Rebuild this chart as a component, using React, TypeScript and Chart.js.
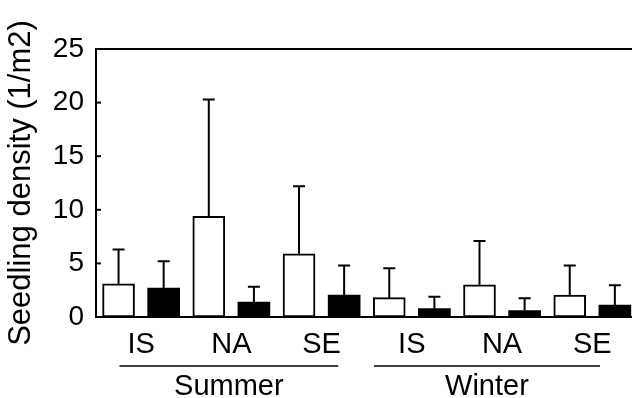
import React, { useEffect, useRef } from "react";
import { Chart, registerables } from "chart.js";
Chart.register(...registerables);

const seasons = ["Summer", "Winter"];
const sites = ["IS", "NA", "SE"];
// open bars
const openMeans = [3.1, 9.4, 5.9, 1.8, 3.0, 2.05];
const openSD = [3.2, 10.9, 6.3, 2.75, 4.1, 2.75];
// filled bars
const filledMeans = [2.7, 1.4, 2.05, 0.78, 0.6, 1.12];
const filledSD = [2.5, 1.43, 2.75, 1.12, 1.15, 1.84];
const yTicks = [0, 5, 10, 15, 20, 25];

const FONT = "'Liberation Sans', Arial, Helvetica, sans-serif";

const errorBars = {
  id: "errorBars",
  afterDatasetsDraw(chart: any) {
    const { ctx } = chart;
    const y = chart.scales.y;
    const sds = [openSD, filledSD];
    const means = [openMeans, filledMeans];
    ctx.save();
    ctx.strokeStyle = "#000";
    ctx.lineWidth = 2;
    chart.data.datasets.forEach((_: any, di: number) => {
      const meta = chart.getDatasetMeta(di);
      meta.data.forEach((bar: any, i: number) => {
        const top = y.getPixelForValue(means[di][i] + sds[di][i]);
        ctx.beginPath();
        ctx.moveTo(bar.x, bar.y);
        ctx.lineTo(bar.x, top);
        ctx.moveTo(bar.x - 6, top);
        ctx.lineTo(bar.x + 6, top);
        ctx.stroke();
      });
    });
    ctx.restore();
  },
};

const decorations = {
  id: "decorations",
  afterDraw(chart: any) {
    const { ctx, chartArea } = chart;
    const x = chart.scales.x;
    const y = chart.scales.y;
    ctx.save();
    ctx.strokeStyle = "#000";
    ctx.lineWidth = 2;
    // top frame line
    ctx.beginPath();
    ctx.moveTo(chartArea.left - 1, chartArea.top);
    ctx.lineTo(chartArea.right, chartArea.top);
    ctx.stroke();
    // inner tick marks
    yTicks.forEach((v) => {
      const py = y.getPixelForValue(v);
      ctx.beginPath();
      ctx.moveTo(chartArea.left, py);
      ctx.lineTo(chartArea.left + 5, py);
      ctx.stroke();
    });
    // season underlines and labels
    const spans = [
      [0.02, 4.87],
      [5.66, 10.67],
    ];
    const lineY = chartArea.bottom + 49;
    ctx.lineWidth = 1.5;
    ctx.fillStyle = "#000";
    ctx.font = `29px ${FONT}`;
    ctx.textAlign = "center";
    ctx.textBaseline = "middle";
    seasons.forEach((s, i) => {
      const x0 = x.getPixelForValue(spans[i][0]);
      const x1 = x.getPixelForValue(spans[i][1]);
      ctx.beginPath();
      ctx.moveTo(x0, lineY);
      ctx.lineTo(x1, lineY);
      ctx.stroke();
      ctx.fillText(s, (x0 + x1) / 2, chartArea.bottom + 70);
    });
    ctx.restore();
  },
};

export default function App() {
  const ref = useRef<HTMLCanvasElement | null>(null);
  useEffect(() => {
    if (!ref.current) return;
    const chart = new Chart(ref.current, {
      type: "bar",
      data: {
        datasets: [
          {
            data: openMeans.map((v, i) => ({ x: i * 2, y: v })),
            backgroundColor: "#fff",
            borderColor: "#000",
            borderWidth: 2,
            borderSkipped: false,
            barThickness: 32,
            grouped: false,
          } as any,
          {
            data: filledMeans.map((v, i) => ({ x: i * 2 + 1, y: v })),
            backgroundColor: "#000",
            borderColor: "#000",
            borderWidth: 0,
            barThickness: 32,
            grouped: false,
          } as any,
        ],
      },
      options: {
        animation: false,
        responsive: true,
        maintainAspectRatio: false,
        layout: { padding: { top: 49, left: 0, right: 0, bottom: 0 } },
        plugins: { legend: { display: false }, tooltip: { enabled: false } },
        scales: {
          x: {
            type: "linear",
            offset: false,
            min: -0.5,
            max: 11.38,
            grid: { display: false, drawTicks: false, offset: false },
            border: { display: true, color: "#000", width: 2 },
            afterBuildTicks(axis: any) {
              axis.ticks = [0.5, 2.5, 4.5, 6.5, 8.5, 10.5].map((v) => ({ value: v }));
            },
            afterFit(axis: any) {
              axis.height = 81;
            },
            ticks: {
              autoSkip: false,
              maxRotation: 0,
              padding: 11,
              color: "#000",
              font: { family: FONT, size: 29 },
              callback: (v: any) => sites[Math.round((Number(v) - 0.5) / 2) % 3],
            },
          },
          y: {
            min: 0,
            max: 25,
            afterBuildTicks(axis: any) {
              axis.ticks = yTicks.map((v) => ({ value: v }));
            },
            afterFit(axis: any) {
              axis.width = 96;
            },
            grid: { display: false, drawTicks: false },
            border: { display: true, color: "#000", width: 2 },
            ticks: {
              padding: 12,
              color: "#000",
              font: { family: FONT, size: 28 },
            },
            title: {
              display: true,
              text: "Seedling density (1/m2)",
              color: "#000",
              font: { family: FONT, size: 31 },
              padding: { top: 3, bottom: 0 },
            },
          },
        },
      },
      plugins: [errorBars, decorations],
    });
    return () => chart.destroy();
  }, []);
  return (
    <div style={{ position: "absolute", left: 0, top: 0, width: 632, height: 398 }}>
      <canvas ref={ref} />
    </div>
  );
}
